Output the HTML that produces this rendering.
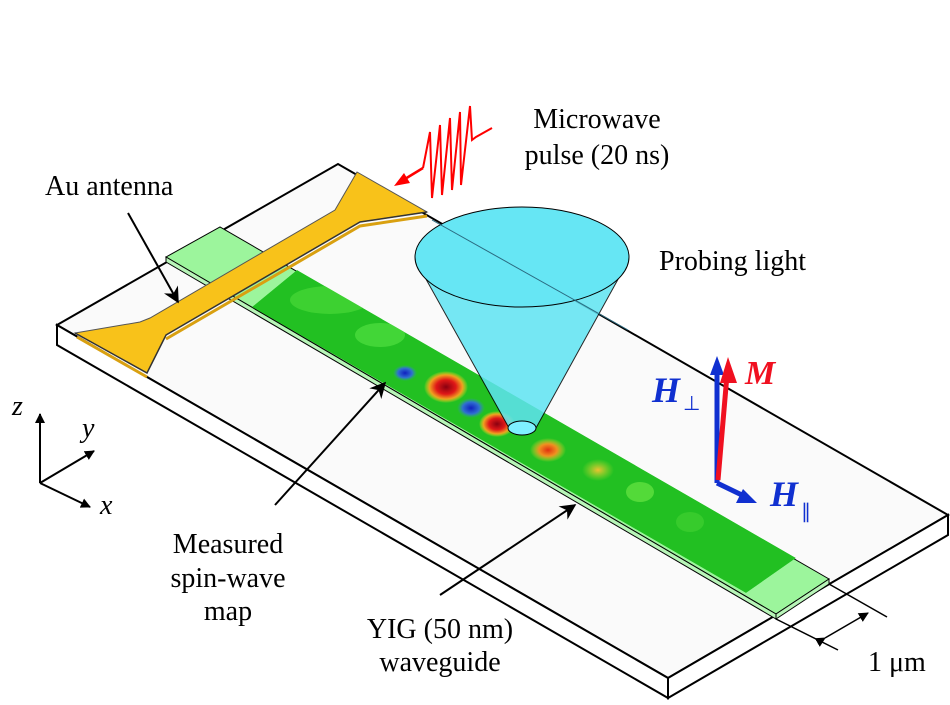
<!DOCTYPE html>
<html><head><meta charset="utf-8"><style>
html,body{margin:0;padding:0;background:#fff}
svg{display:block}
text{font-family:"Liberation Serif",serif}
</style></head><body>
<svg width="950" height="705" viewBox="0 0 950 705" xmlns="http://www.w3.org/2000/svg">
<defs>
<marker id="ak" markerWidth="10" markerHeight="10" refX="9" refY="5" orient="auto" markerUnits="userSpaceOnUse"><path d="M0,0 L10,5 L0,10 z" fill="#000"/></marker>
<marker id="ab" viewBox="0 0 10 10" markerWidth="16" markerHeight="16" refX="9" refY="5" orient="auto" markerUnits="userSpaceOnUse"><path d="M0,0 L10,5 L0,10 L3,5 z" fill="#000"/></marker>
<radialGradient id="rd"><stop offset="0" stop-color="#8a0010"/><stop offset="0.45" stop-color="#e01818"/><stop offset="0.75" stop-color="#f0a020"/><stop offset="1" stop-color="#f0e020" stop-opacity="0"/></radialGradient>
<radialGradient id="or"><stop offset="0" stop-color="#e03010"/><stop offset="0.5" stop-color="#f09020"/><stop offset="1" stop-color="#e0e030" stop-opacity="0"/></radialGradient>
<radialGradient id="ye"><stop offset="0" stop-color="#f0c030"/><stop offset="1" stop-color="#b0e030" stop-opacity="0"/></radialGradient>
<radialGradient id="bl"><stop offset="0" stop-color="#1020c0"/><stop offset="0.6" stop-color="#3070d0"/><stop offset="1" stop-color="#30a0a0" stop-opacity="0"/></radialGradient>
<clipPath id="wg"><polygon points="297,270 796,558 746,593 252,307"/></clipPath>
</defs>
<!-- slab -->
<polygon points="57,325 338,164 948,515 668,678" fill="#fafafa" stroke="#000" stroke-width="2"/>
<polygon points="57,325 668,678 668,698 57,345" fill="#fff" stroke="#000" stroke-width="2"/>
<polygon points="668,678 948,515 948,535 668,698" fill="#fff" stroke="#000" stroke-width="2"/>
<!-- waveguide -->
<polygon points="166,257 220,227 829,579 776,614" fill="#9cf59c" stroke="#000" stroke-width="1"/>
<polygon points="166,257 776,614 776,619 166,262" fill="#b8f5b8" stroke="#000" stroke-width="1"/>
<polygon points="776,614 829,579 829,584 776,619" fill="#b8f5b8" stroke="#000" stroke-width="1"/>
<g clip-path="url(#wg)">
<polygon points="297,270 796,558 746,593 252,307" fill="#22c022"/>
<ellipse cx="330" cy="300" rx="40" ry="14" fill="#48d838" opacity="0.7"/>
<ellipse cx="380" cy="335" rx="25" ry="12" fill="#50e040" opacity="0.7"/>
<ellipse cx="405" cy="373" rx="12" ry="8" fill="url(#bl)"/>
<ellipse cx="446" cy="387" rx="22" ry="16" fill="url(#rd)"/>
<ellipse cx="471" cy="408" rx="14" ry="10" fill="url(#bl)"/>
<ellipse cx="497" cy="424" rx="18" ry="13" fill="url(#rd)"/>
<ellipse cx="548" cy="450" rx="18" ry="12" fill="url(#or)"/>
<ellipse cx="598" cy="470" rx="16" ry="11" fill="url(#ye)"/>
<ellipse cx="640" cy="492" rx="14" ry="10" fill="#60e040" opacity="0.8"/>
<ellipse cx="690" cy="522" rx="14" ry="10" fill="#40d030" opacity="0.7"/>
</g>
<!-- antenna -->
<polygon points="75,333 140,322 150,318 335,210 357,172 427,212 360,222 166,335 147,373" fill="#f8c21a" stroke="#555" stroke-width="1"/>
<polyline points="75,333 147,373 166,335 360,222 427,212" fill="none" stroke="#333" stroke-width="1.5"/>
<polyline points="77,337 147,377" fill="none" stroke="#d9a010" stroke-width="3"/>
<polyline points="166,339 360,226 427,216" fill="none" stroke="#d9a010" stroke-width="3"/>
<!-- cone -->
<polygon points="417,263 509,428 536,428 627,263" fill="#5ee4f2" opacity="0.85" stroke="#000" stroke-width="1"/>
<ellipse cx="522" cy="257" rx="107" ry="50" fill="#66e6f4" stroke="#000" stroke-width="1"/>
<line x1="432" y1="220" x2="628" y2="330" stroke="#2a6a80" stroke-width="1"/>
<ellipse cx="522" cy="428" rx="14" ry="7" fill="#7ef0ff" stroke="#000" stroke-width="1"/>
<!-- microwave -->
<line x1="423" y1="168" x2="400" y2="182" stroke="#f00" stroke-width="2.5"/>
<polygon points="394,186 404,173 410,183" fill="#f00"/>
<polyline points="423,168 430,132 432,198 440,125 442,195 450,118 452,190 460,112 461,185 470,106 472,140 476,137 492,128" fill="none" stroke="#f00" stroke-width="2"/>
<!-- labels arrows -->
<line x1="128" y1="213" x2="178" y2="302" stroke="#000" stroke-width="2" marker-end="url(#ab)"/>
<line x1="275" y1="505" x2="385" y2="383" stroke="#000" stroke-width="2" marker-end="url(#ab)"/>
<line x1="440" y1="595" x2="575" y2="505" stroke="#000" stroke-width="2" marker-end="url(#ab)"/>
<!-- axes -->
<line x1="40" y1="483" x2="40" y2="414" stroke="#000" stroke-width="2" marker-end="url(#ak)"/>
<line x1="40" y1="483" x2="94" y2="451" stroke="#000" stroke-width="2" marker-end="url(#ak)"/>
<line x1="40" y1="483" x2="90" y2="507" stroke="#000" stroke-width="2" marker-end="url(#ak)"/>
<text x="12" y="415" font-size="28" font-style="italic">z</text>
<text x="82" y="437" font-size="28" font-style="italic">y</text>
<text x="100" y="514" font-size="28" font-style="italic">x</text>
<!-- dims -->
<line x1="829" y1="584" x2="887" y2="617" stroke="#000" stroke-width="1.5"/>
<line x1="776" y1="619" x2="838" y2="650" stroke="#000" stroke-width="1.5"/>
<line x1="825" y1="638" x2="868" y2="613" stroke="#000" stroke-width="1.5" marker-start="url(#ak)" marker-end="url(#ak)"/>
<!-- field arrows -->
<line x1="717" y1="483" x2="717" y2="372" stroke="#1030d0" stroke-width="5"/>
<polygon points="717,356 710,375 724,375" fill="#1030d0"/>
<line x1="717" y1="483" x2="746" y2="497" stroke="#1030d0" stroke-width="5"/>
<polygon points="757,503 736,503 743,489" fill="#1030d0"/>
<line x1="718" y1="480" x2="727" y2="375" stroke="#f01020" stroke-width="5"/>
<polygon points="728,357 720,383 737,383" fill="#f01020"/>
<text x="652" y="402" font-size="36" font-weight="bold" font-style="italic" fill="#1030d0">H</text>
<text x="683" y="410" font-size="20" fill="#1030d0">⊥</text>
<text x="745" y="384" font-size="34" font-weight="bold" font-style="italic" fill="#f01020">M</text>
<text x="770" y="506" font-size="36" font-weight="bold" font-style="italic" fill="#1030d0">H</text>
<text x="801" y="518" font-size="20" fill="#1030d0">∥</text>
<!-- texts -->
<g font-size="28" fill="#000">
<text x="45" y="195">Au antenna</text>
<text x="597" y="128" text-anchor="middle">Microwave</text>
<text x="597" y="164" text-anchor="middle">pulse (20 ns)</text>
<text x="659" y="270">Probing light</text>
<text x="228" y="553" text-anchor="middle">Measured</text>
<text x="228" y="587" text-anchor="middle">spin-wave</text>
<text x="228" y="620" text-anchor="middle">map</text>
<text x="440" y="638" text-anchor="middle">YIG (50 nm)</text>
<text x="440" y="671" text-anchor="middle">waveguide</text>
<text x="868" y="671">1 μm</text>
</g>
</svg>
</body></html>
